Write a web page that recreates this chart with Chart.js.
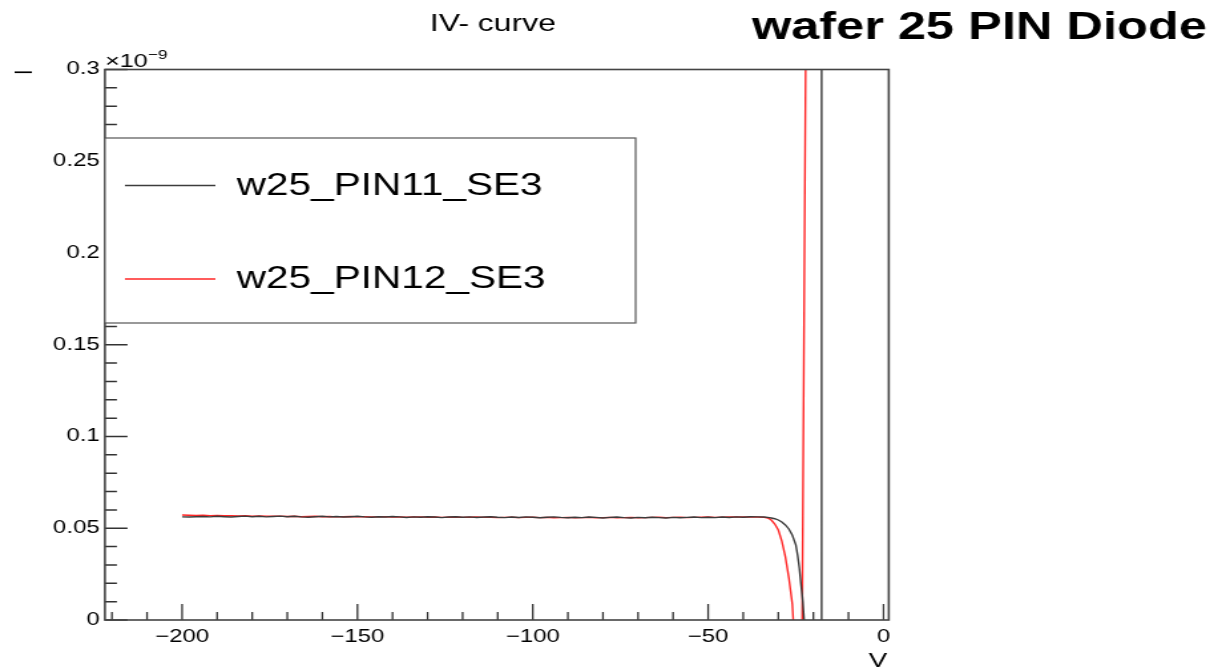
<!DOCTYPE html>
<html>
<head>
<meta charset="utf-8">
<script src="https://cdn.jsdelivr.net/npm/chart.js@4.4.1/dist/chart.umd.min.js"></script>
<style>
  html, body { margin: 0; padding: 0; background: #fff; }
  #wrap { position: absolute; left: 0; top: 0; width: 925px; height: 672px;
          transform: scaleX(1.3297); transform-origin: 0 0; }
</style>
</head>
<body>
<div id="wrap"><canvas id="c" width="925" height="672"></canvas></div>
<script>
// ---------------- data ----------------
const TITLE = 'IV- curve';
const HEADLINE = 'wafer 25 PIN Diode';
const X_TITLE = 'V';
const Y_TITLE = 'I';
const Y_EXPONENT = '\u22129';

const X_TICKS = [-200, -150, -100, -50, 0];
const X_TICK_LABELS = ['\u2212200', '\u2212150', '\u2212100', '\u221250', '0'];
const Y_TICKS = [0, 0.05, 0.1, 0.15, 0.2, 0.25, 0.3];
const Y_TICK_LABELS = ['0', '0.05', '0.1', '0.15', '0.2', '0.25', '0.3'];

const SERIES_NAMES = ['w25_PIN11_SE3', 'w25_PIN12_SE3'];

const V_FLAT = [
  -200,-198,-196,-194,-192,-190,-188,-186,-184,-182,
  -180,-178,-176,-174,-172,-170,-168,-166,-164,-162,
  -160,-158,-156,-154,-152,-150,-148,-146,-144,-142,
  -140,-138,-136,-134,-132,-130,-128,-126,-124,-122,
  -120,-118,-116,-114,-112,-110,-108,-106,-104,-102,
  -100,-98,-96,-94,-92,-90,-88,-86,-84,-82,
  -80,-78,-76,-74,-72,-70,-68,-66,-64,-62,
  -60,-58,-56,-54,-52,-50,-48,-46,-44,-42,
  -40,-38,-36,-34];

const I11_FLAT = [
  0.0562,0.0561,0.0563,0.0564,0.0562,0.0565,0.0563,0.0561,0.0564,0.0566,
  0.0563,0.0565,0.0562,0.0564,0.0566,0.0563,0.0565,0.0562,0.0560,0.0563,
  0.0565,0.0562,0.0564,0.0561,0.0563,0.0565,0.0562,0.0560,0.0563,0.0561,
  0.0564,0.0562,0.0559,0.0562,0.0560,0.0563,0.0561,0.0558,0.0561,0.0563,
  0.0560,0.0562,0.0559,0.0561,0.0563,0.0560,0.0558,0.0561,0.0559,0.0562,
  0.0560,0.0557,0.0560,0.0562,0.0559,0.0557,0.0560,0.0558,0.0561,0.0559,
  0.0556,0.0559,0.0561,0.0558,0.0556,0.0559,0.0557,0.0560,0.0558,0.0556,
  0.0559,0.0557,0.0559,0.0561,0.0558,0.0560,0.0558,0.0561,0.0559,0.0562,
  0.0560,0.0563,0.0562,0.0561];

const V11_TAIL = [-33,-32,-31,-30,-29,-28,-27,-26,-25,-24.5,-24,-23.5,-23,-22.5,-22,-17.7,-17.3];
const I11_TAIL = [0.0559,0.0556,0.0552,0.0545,0.0534,0.0518,0.0496,0.0462,0.0410,0.0355,0.0285,0.0190,0.0100,-0.004,-0.03,-2,20];

const I12_FLAT = [
  0.0572,0.0571,0.0570,0.0571,0.0569,0.0570,0.0568,0.0569,0.0567,0.0568,
  0.0566,0.0567,0.0566,0.0565,0.0566,0.0564,0.0565,0.0563,0.0564,0.0565,
  0.0563,0.0564,0.0562,0.0563,0.0564,0.0562,0.0563,0.0561,0.0562,0.0563,
  0.0561,0.0562,0.0560,0.0561,0.0562,0.0560,0.0561,0.0559,0.0560,0.0561,
  0.0559,0.0560,0.0561,0.0559,0.0560,0.0558,0.0559,0.0560,0.0558,0.0559,
  0.0560,0.0558,0.0559,0.0557,0.0558,0.0559,0.0557,0.0558,0.0559,0.0557,
  0.0558,0.0559,0.0557,0.0558,0.0559,0.0557,0.0558,0.0559,0.0560,0.0558,
  0.0559,0.0560,0.0558,0.0559,0.0560,0.0561,0.0559,0.0560,0.0561,0.0562,
  0.0561,0.0562,0.0561,0.0559];

const V12_TAIL = [-33,-32,-31,-30,-29,-28,-27,-26,-25.5,-24,-21];
const I12_TAIL = [0.0556,0.0545,0.0523,0.0490,0.0430,0.0345,0.0230,0.0085,-0.008,-0.254,0.676];

// ---------------- build ----------------
function toPoints(vs, is) { return vs.map((v, k) => ({ x: v, y: is[k] })); }
const pts11 = toPoints(V_FLAT, I11_FLAT).concat(toPoints(V11_TAIL, I11_TAIL));
const pts12 = toPoints(V_FLAT, I12_FLAT).concat(toPoints(V12_TAIL, I12_TAIL));

const FONT = "'Liberation Sans', Arial, Helvetica, sans-serif";

const rootStyle = {
  id: 'rootStyle',
  afterDatasetsDraw(chart) {
    const ctx = chart.ctx;
    const a = chart.chartArea;
    const xs = chart.scales.x, ys = chart.scales.y;
    ctx.save();
    // minor / major ticks on x
    ctx.strokeStyle = '#333';
    ctx.lineWidth = 1.3;
    ctx.beginPath();
    for (let v = -220; v <= 0; v += 10) {
      const px = xs.getPixelForValue(v);
      const major = X_TICKS.includes(v);
      ctx.moveTo(px, a.bottom);
      ctx.lineTo(px, a.bottom - (major ? 16 : 8));
    }
    ctx.stroke();
    ctx.lineWidth = 1.5;
    ctx.beginPath();
    for (let k = 0; k <= 30; k++) {
      const v = k / 100;
      const py = ys.getPixelForValue(v);
      const major = (k % 5 === 0);
      ctx.moveTo(a.left, py);
      ctx.lineTo(a.left + (major ? 17 : 9), py);
    }
    ctx.stroke();
    // frame
    ctx.strokeStyle = '#444';
    ctx.lineWidth = 1.6;
    ctx.strokeRect(a.left, a.top, a.right - a.left, a.bottom - a.top);

    // legend
    const lx0 = a.left, lx1 = 478, ly0 = 138, ly1 = 323;
    ctx.fillStyle = '#fff';
    ctx.fillRect(lx0, ly0, lx1 - lx0, ly1 - ly0);
    ctx.strokeStyle = '#555';
    ctx.lineWidth = 1.2;
    ctx.strokeRect(lx0, ly0, lx1 - lx0, ly1 - ly0);
    const rows = [185.5, 279];
    chart.data.datasets.forEach((ds, k) => {
      ctx.strokeStyle = ds.borderColor;
      ctx.lineWidth = 1.6;
      ctx.beginPath();
      ctx.moveTo(94, rows[k]);
      ctx.lineTo(162, rows[k]);
      ctx.stroke();
      ctx.fillStyle = '#000';
      ctx.font = '30.5px ' + FONT;
      ctx.textAlign = 'left';
      ctx.textBaseline = 'middle';
      ctx.fillText(ds.label, 178, rows[k] + 1);
    });

    // exponent label
    ctx.fillStyle = '#000';
    ctx.textBaseline = 'alphabetic';
    ctx.textAlign = 'left';
    ctx.font = '19px ' + FONT;
    ctx.fillText('\u00d710', a.left, 66.5);
    const w = ctx.measureText('\u00d710').width;
    ctx.font = '13px ' + FONT;
    ctx.fillText(Y_EXPONENT, a.left + w, 59);

    // titles
    ctx.font = '24px ' + FONT;
    ctx.textAlign = 'center';
    ctx.fillText(TITLE, 370.7, 30.5);
    ctx.font = 'bold 38px ' + FONT;
    ctx.textAlign = 'left';
    ctx.fillText(HEADLINE, 565.4, 39);

    // axis titles
    ctx.font = '21px ' + FONT;
    ctx.textAlign = 'center';
    ctx.fillText(X_TITLE, xs.getPixelForValue(-1.6), 667);
    ctx.translate(19.5, 72.3);
    ctx.rotate(-Math.PI / 2);
    ctx.font = '18px ' + FONT;
    ctx.textAlign = 'center';
    ctx.textBaseline = 'middle';
    ctx.fillText(Y_TITLE, 0, 0);
    ctx.restore();
  }
};

new Chart(document.getElementById('c'), {
  type: 'line',
  data: {
    datasets: [
      { label: SERIES_NAMES[0], data: pts11, borderColor: '#3c3c3c', borderWidth: 1.4,
        pointRadius: 0, tension: 0, fill: false },
      { label: SERIES_NAMES[1], data: pts12, borderColor: '#ff2626', borderWidth: 1.4,
        pointRadius: 0, tension: 0, fill: false }
    ]
  },
  options: {
    responsive: false,
    animation: false,
    events: [],
    layout: { padding: { left: 28.9, right: 256.6, top: 69.5, bottom: 22 } },
    plugins: { legend: { display: false }, title: { display: false }, tooltip: { enabled: false } },
    scales: {
      x: {
        type: 'linear', min: -222, max: 1.5,
        grid: { display: false, drawTicks: false },
        border: { display: false },
        afterBuildTicks: s => { s.ticks = X_TICKS.map(v => ({ value: v })); },
        afterFit: s => { s.height = 30; },
        ticks: {
          autoSkip: false, maxRotation: 0, padding: 6, color: '#000',
          font: { family: FONT, size: 18 },
          callback: (v, i) => X_TICK_LABELS[i]
        }
      },
      y: {
        type: 'linear', min: 0, max: 0.3,
        grid: { display: false, drawTicks: false },
        border: { display: false },
        afterBuildTicks: s => { s.ticks = Y_TICKS.map(v => ({ value: v })); },
        afterFit: s => { s.width = 50; },
        ticks: {
          autoSkip: false, padding: 4, color: '#000',
          font: { family: FONT, size: 18 },
          callback: (v, i) => Y_TICK_LABELS[i]
        }
      }
    }
  },
  plugins: [rootStyle]
});
</script>
</body>
</html>
